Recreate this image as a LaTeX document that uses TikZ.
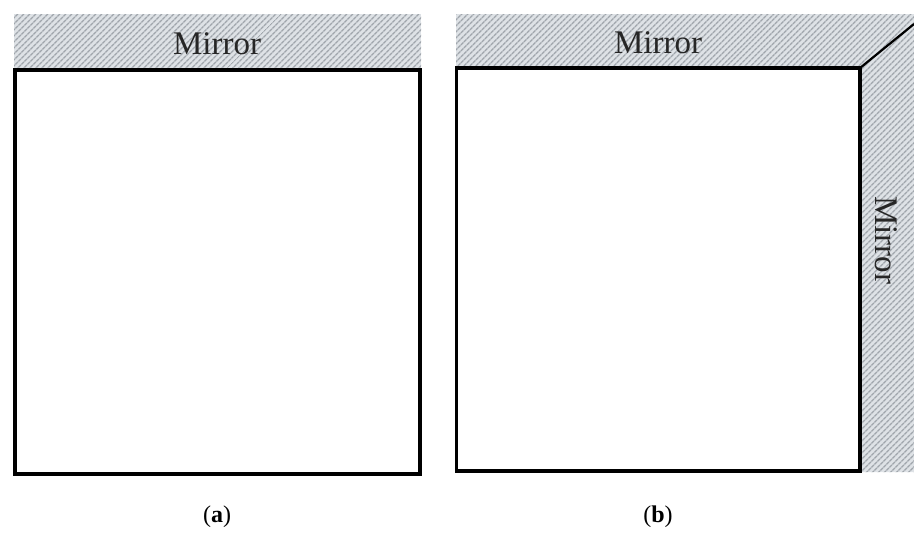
\documentclass[tikz,border=0pt]{standalone}
\usepackage{fontspec}
\setmainfont{Liberation Serif}
\usetikzlibrary{patterns.meta}
\definecolor{hatchbg}{RGB}{222,226,230}
\definecolor{hatchline}{RGB}{160,166,172}
\tikzset{
  mirrorfill/.style={
    pattern={Lines[angle=45,distance=4pt,line width=1.4pt]},
    pattern color=hatchline},
  roomwall/.style={draw=black,line width=3.4pt,fill=white},
  mirrorlabel/.style={font=\fontsize{33}{36}\selectfont,text=black!85},
  caption/.style={font=\fontsize{24}{28}\selectfont}
}
\begin{document}
\begin{tikzpicture}[x=1pt,y=-1pt]
  \useasboundingbox (0,0) rectangle (914,538);
  % (a) single mirror above the room
  \fill[hatchbg] (14,14) rectangle (421,70);
  \fill[mirrorfill] (14,14) rectangle (421,70);
  \draw[roomwall] (15,70) rectangle (420,474);
  \node[mirrorlabel] (ma) at (217,44) {Mirror};
  \node[caption] (capa) at (217,517) {(\textbf{a})};
  % (b) two mirrors meeting at a corner
  \fill[hatchbg] (456,14) -- (914,14) -- (914,472) -- (860,472) -- (860,68) -- (456,68) -- cycle;
  \fill[mirrorfill] (456,14) -- (914,14) -- (914,472) -- (860,472) -- (860,68) -- (456,68) -- cycle;
  \draw[roomwall] (456.5,68) rectangle (860,471);
  \coordinate (corner) at (860,68);
  \coordinate (edge) at (914,24);
  \draw[line width=2.2pt] (corner) -- (edge);
  \node[mirrorlabel] (mb) at (658,43) {Mirror};
  \node[mirrorlabel,rotate=-90] (mr) at (886,240) {Mirror};
  \node[caption] (capb) at (658,517) {(\textbf{b})};
\end{tikzpicture}
\end{document}
